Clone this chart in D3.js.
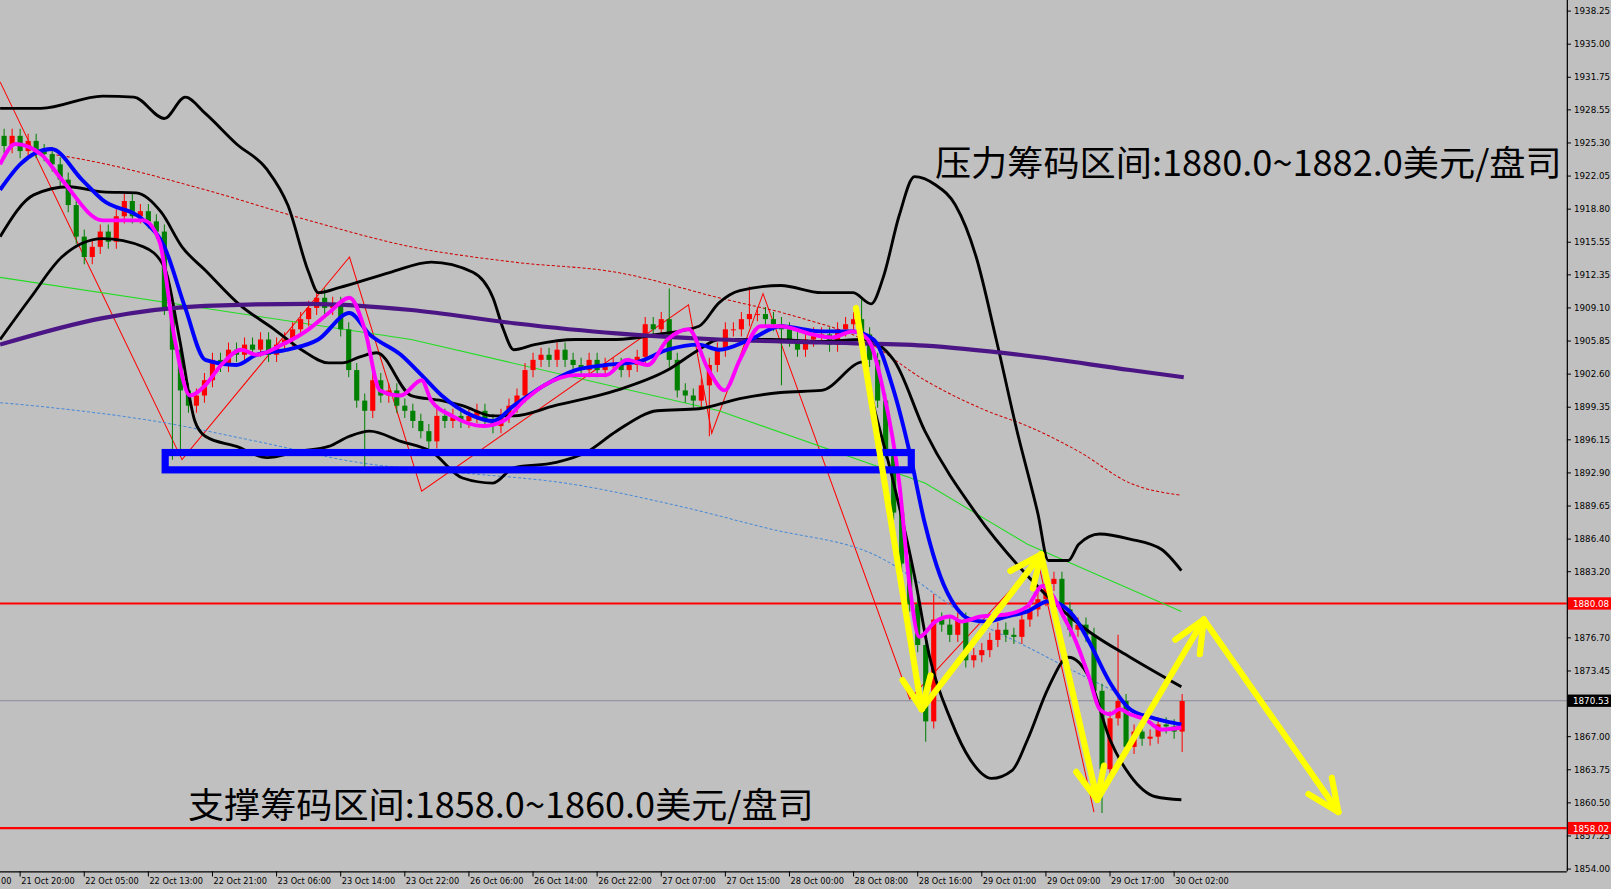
<!DOCTYPE html>
<html><head><meta charset="utf-8">
<script src="https://cdn.jsdelivr.net/npm/d3@7"></script>
<style>body{margin:0;background:#c0c0c0;overflow:hidden}</style>
</head><body>
<svg id="c" width="1611" height="889"></svg>
<script>
// ---- data ----
const closes = [
1925.0,1926.0,1924.5,1925.5,1924.5,1924.2,
1923.2,1921.7,1919.2,1916.1,1914.1,1915.1,1916.6,
1915.6,1918.1,1919.6,1918.1,1918.6,1917.6,1916.6,
1909.1,1905.0,1901.0,1899.5,1900.5,1902.0,
1904.0,1903.5,1905.0,1904.5,1905.5,1905.0,1906.0,1904.5,1905.5,1906.0,
1907.0,1908.0,1909.1,1910.1,1909.1,1909.5,1907.0,1903.0,1900.0,1899.0,
1902.0,1900.5,1901.0,1899.5,1899.0,1898.0,1897.0,1896.0,1898.5,1898.0,
1898.5,1898.0,1898.5,1899.0,1898.0,1897.5,1898.5,1899.5,1900.5,1903.0,
1904.0,1904.5,1904.0,1905.0,1904.0,1903.5,1903.0,1904.0,1903.0,1903.5,
1903.5,1903.0,1903.5,1904.3,1907.5,1907.0,1908.0,1904.0,1901.0,1900.5,
1900.0,1901.5,1903.5,1905.0,1907.0,1907.0,1908.0,1908.5,1908.5,1908.0,
1907.5,1907.0,1906.0,1905.0,1906.0,1906.5,1906.5,1905.5,1907.0,1907.5,1908.0,
1906.5,1904.0,1900.0,1895.0,1889.0,1884.0,1880.0,1876.0,1868.5,
1878.5,1878.0,1877.0,1878.5,1874.5,1875.0,1875.5,1876.5,1877.5,1877.0,
1876.8,1878.5,1879.5,1880.5,1882.0,1882.5,1879.5,1877.5,1878.0,1877.0,
1871.5,1863.8,1868.8,1870.5,1866.0,1867.5,1866.8,1867.0,1868.2,1868.0,1867.5,1870.5
];
const firstOpen = 1926.0;
const bigWicks = {21:[null,1894.2],22:[null,1895.0],40:[1911.0,null],45:[null,1893.0],
  83:[1911.0,null],88:[null,1896.5],93:[1911.2,null],97:[null,1901.5],107:[1910.0,null],
  115:[null,1866.5],116:[1881.0,null],137:[null,1859.5],139:[1877.0,null],147:[null,1865.5]};
const wickPad = 0.7;

const pinkMA = [[-0.5,1923.2],[1.4,1925.2],[4.6,1924.2],[7.2,1921.7],[12.3,1917.7],[17.4,1917.7],[19.4,1915.6],[21.3,1906.0],[23.2,1900.5],[25.1,1901.5],[27.1,1903.5],[29.6,1905.0],[31.5,1904.5],[34.7,1905.5],[38,1907.0],[40.5,1908.6],[43.1,1910.1],[45,1907.0],[46.9,1901.0],[49.5,1900.5],[52.1,1902.0],[53.3,1900.0],[55.9,1898.5],[59.7,1897.5],[62.3,1898.0],[64.9,1900.0],[67.4,1901.5],[71.3,1902.5],[75.1,1902.5],[77.7,1904.0],[80.3,1903.5],[82.8,1906.0],[85.4,1907.0],[87.9,1903.0],[89.9,1901.0],[91.8,1904.0],[94.4,1907.3],[96.9,1907.3],[100.8,1906.5],[103.3,1906.2],[105.9,1906.8],[107.8,1906.0],[109.7,1901.0],[111.7,1891.9],[113,1881.8],[114.2,1876.8],[116.2,1878.3],[118.1,1878.8],[119.4,1878.3],[121.9,1878.8],[125.1,1879.0],[127.7,1879.8],[129.6,1881.8],[130.9,1880.8],[132.2,1878.8],[133.5,1876.8],[135.4,1872.8],[136.7,1869.7],[138,1869.2],[139.2,1869.7],[140.5,1869.2],[142.4,1868.7],[144.4,1867.7],[146.9,1867.9]];
const blueMA = [[-0.5,1920.7],[2,1923.2],[5.9,1924.7],[9.7,1921.7],[12.3,1919.7],[17.4,1917.7],[20,1915.1],[22.6,1909.1],[25.1,1904.0],[29,1903.5],[31.5,1904.5],[35.4,1905.0],[39.2,1906.0],[43.1,1908.6],[45.6,1906.5],[49.5,1904.5],[52.1,1902.5],[54.6,1900.5],[58.5,1898.5],[61,1898.0],[63.6,1899.5],[67.4,1901.5],[71.3,1903.0],[75.1,1903.5],[79,1903.8],[82.8,1905.0],[86.7,1905.5],[89.2,1905.0],[93.1,1906.0],[96.9,1907.3],[102,1906.8],[105.9,1906.8],[108.5,1906.0],[111,1901.0],[113,1894.9],[114.9,1887.9],[116.8,1882.8],[118.7,1879.8],[120.6,1878.5],[122.6,1878.3],[125.1,1878.8],[127.7,1879.3],[130.3,1880.3],[132.2,1879.8],[133.5,1878.8],[135.4,1876.3],[138,1872.3],[140.5,1869.7],[143.1,1868.9],[145,1868.5],[146.9,1868.2]];
const purpleMA = [[-0.5,1905.5],[12.3,1908.1],[25.1,1909.3],[38,1909.5],[50.8,1908.9],[63.6,1907.6],[76.4,1906.6],[89.2,1906.0],[102,1905.7],[114.9,1905.4],[127.7,1904.4],[140.5,1903.0],[147.2,1902.3]];
const bandUpper = [[-0.5,1928.7],[4.6,1928.7],[12.3,1929.9],[16.2,1929.8],[20,1927.7],[22.6,1929.8],[25.1,1928.2],[29,1925.2],[32.8,1922.7],[35.4,1919.2],[38,1912.6],[39.2,1910.6],[41.8,1911.1],[48.2,1912.6],[53.3,1913.6],[58.5,1912.6],[61,1910.1],[62.3,1907.0],[63.6,1905.0],[66.2,1905.5],[71.3,1906.0],[76.4,1906.0],[81.5,1906.5],[86.7,1907.3],[89.2,1909.6],[91.8,1910.8],[96.9,1911.3],[102,1910.6],[105.9,1910.6],[108.2,1909.5],[109.7,1912.1],[111.7,1918.2],[113.6,1922.0],[116.2,1921.2],[118.7,1919.2],[121.3,1914.1],[123.8,1906.0],[126.4,1897.0],[129,1888.9],[130.3,1884.3],[132.8,1884.3],[134.1,1885.9],[136.7,1886.9],[140.5,1886.4],[144.4,1885.4],[146.9,1883.3]];
const bandMiddle = [[-0.5,1916.1],[3.7,1920.2],[8.1,1921.0],[12.3,1920.5],[16.5,1920.4],[19.6,1918.5],[22.2,1915.1],[25.1,1912.8],[29.4,1909.4],[33.7,1907.0],[37.1,1905.0],[40.5,1903.7],[42.2,1903.7],[44.4,1904.3],[46.5,1904.7],[50.8,1900.5],[54.6,1900.0],[57.2,1899.5],[61,1898.5],[63.6,1898.5],[68.7,1899.5],[76.4,1901.0],[82.8,1903.0],[86.7,1905.0],[89.2,1906.0],[95.6,1906.0],[102,1905.8],[107.2,1906.0],[111,1904.0],[114.9,1897.0],[121.3,1888.9],[127.7,1882.8],[131.5,1879.8],[135.4,1877.3],[140.5,1874.8],[146.9,1871.9]];
const bandLower = [[-0.5,1906.0],[3.3,1910.1],[7.2,1914.1],[12.3,1915.9],[17.4,1915.1],[20,1913.1],[21.9,1906.0],[23.8,1898.0],[25.1,1896.5],[29,1895.5],[32.8,1894.4],[36.7,1895.0],[40.5,1895.5],[43.1,1896.5],[45.6,1897.0],[49.5,1896.0],[53.3,1895.0],[57.2,1892.4],[61,1891.9],[63.6,1893.4],[68.7,1893.9],[72.6,1894.9],[76.4,1897.0],[81.5,1899.0],[86.7,1899.2],[91.8,1900.2],[96.9,1900.8],[102,1901.0],[107.2,1903.8],[108.5,1899.5],[111,1891.9],[113.6,1882.8],[115.5,1874.8],[118.1,1868.7],[120.6,1864.7],[123.2,1862.9],[125.8,1863.7],[127.7,1866.7],[130.3,1871.8],[132.8,1874.8],[135.4,1872.8],[138,1866.7],[140.5,1863.2],[143.7,1861.1],[146.9,1860.8]];
const redDotted = [[5.9,1924.2],[9.7,1923.7],[25.1,1920.7],[38,1917.7],[50.8,1915.1],[63.6,1913.6],[76.4,1912.6],[89.2,1910.1],[99.5,1908.1],[107.2,1906.0],[114.9,1902.0],[122.6,1899.0],[127.7,1897.5],[134.1,1895.0],[140.5,1891.9],[146.9,1890.7]];
const blueDotted = [[-0.5,1899.8],[7.2,1899.2],[18.7,1898.0],[31.5,1896.0],[44.4,1893.9],[57.2,1892.9],[70,1891.9],[82.8,1889.9],[95.6,1887.4],[108.5,1884.9],[121.3,1878.3],[127.7,1875.8],[134.1,1873.2],[139.2,1871.2]];
const greenLine = [[-0.5,1912.1],[50.8,1906.0],[89.2,1899.0],[114.9,1891.9],[127.7,1885.9],[146.9,1879.3]];
const zigzag = [[-0.5,1931.3],[22.2,1894.2],[43.1,1914.1],[52.1,1891.1],[85.4,1909.4],[88.3,1896.8],[94.7,1910.5],[113,1870.7],[129,1884.3],[136,1859.6]];
const yellowPath = [[106.3,1909.1],[114.5,1869.7],[129.4,1884.9],[136.4,1860.8],[149.7,1878.5],[166.5,1859.6]];
const supportBox = {b0:20.1, b1:113.2, top:1894.9, bottom:1893.2};
const levels = [{p:1880.08, label:"1880.08", color:"#ff0000", w:2},{p:1858.02, label:"1858.02", color:"#ff0000", w:2},{p:1870.53, label:"1870.53", color:"#8a8a9a", w:1}];
const yTicks = [1938.25,1935.00,1931.75,1928.55,1925.30,1922.05,1918.80,1915.55,1912.35,1909.10,1905.85,1902.60,1899.35,1896.15,1892.90,1889.65,1886.40,1883.20,1876.70,1873.45,1867.00,1863.75,1860.50,1857.25,1854.00];
const xTickBars = [2,10,18,26,34,42,50,58,66,74,82,90,98,106,114,122,130,138,146];
const xTickLabels = ["21 Oct 20:00","22 Oct 05:00","22 Oct 13:00","22 Oct 21:00","23 Oct 06:00","23 Oct 14:00","23 Oct 22:00","26 Oct 06:00","26 Oct 14:00","26 Oct 22:00","27 Oct 07:00","27 Oct 15:00","28 Oct 00:00","28 Oct 08:00","28 Oct 16:00","29 Oct 01:00","29 Oct 09:00","29 Oct 17:00","30 Oct 02:00"];
const leftStub = "00";
const textResist = "压力筹码区间:1880.0~1882.0美元/盘司";
const textSupport = "支撑筹码区间:1858.0~1860.0美元/盘司";

// ---- drawing ----
const S = 1611/1568;
const W=1525, H=848;
const svg = d3.select("#c");
svg.append("rect").attr("width",1611).attr("height",889).attr("fill","#c0c0c0");
const root = svg.append("g").attr("transform",`scale(${S})`);
const x = d3.scaleLinear().domain([0,195]).range([4,4+7.8*195]);
const y = d3.scaleLinear().domain([1935,1867]).range([43,717]);
root.append("defs").append("clipPath").attr("id","pc").append("rect").attr("width",W).attr("height",H);
const g = root.append("g").attr("clip-path","url(#pc)");

const line = d3.line().x(d=>x(d[0])).y(d=>y(d[1])).curve(d3.curveMonotoneX);
const lin = d3.line().x(d=>x(d[0])).y(d=>y(d[1]));

levels.forEach(l=>g.append("line").attr("x1",0).attr("x2",W).attr("y1",y(l.p)).attr("y2",y(l.p)).attr("stroke",l.color).attr("stroke-width",l.w));

g.append("path").attr("d",lin(zigzag)).attr("fill","none").attr("stroke","#ff0000").attr("stroke-width",1);
g.append("path").attr("d",line(redDotted)).attr("fill","none").attr("stroke","#d00000").attr("stroke-width",1).attr("stroke-dasharray","3,2");
g.append("path").attr("d",line(blueDotted)).attr("fill","none").attr("stroke","#4a8ad8").attr("stroke-width",1).attr("stroke-dasharray","3,2");
g.append("path").attr("d",lin(greenLine)).attr("fill","none").attr("stroke","#22dd22").attr("stroke-width",1);

const bars = closes.map((c,i)=>{
  const o = i===0?firstOpen:closes[i-1];
  const w = bigWicks[i]||[null,null];
  return {i,o,c,h:w[0]!=null?w[0]:Math.max(o,c)+wickPad,l:w[1]!=null?w[1]:Math.min(o,c)-wickPad};
});
const cg = g.append("g");
cg.selectAll("line.w").data(bars).join("line").attr("x1",d=>x(d.i)).attr("x2",d=>x(d.i))
  .attr("y1",d=>y(d.h)).attr("y2",d=>y(d.l)).attr("stroke",d=>d.c>=d.o?"#ff0000":"#008000");
cg.selectAll("rect").data(bars).join("rect").attr("x",d=>x(d.i)-2.5).attr("width",5)
  .attr("y",d=>y(Math.max(d.o,d.c))).attr("height",d=>Math.max(1,Math.abs(y(d.o)-y(d.c))))
  .attr("fill",d=>d.c>=d.o?"#ff0000":"#008000");

[bandUpper,bandMiddle,bandLower].forEach(b=>g.append("path").attr("d",line(b)).attr("fill","none").attr("stroke","#000").attr("stroke-width",2.8));
g.append("path").attr("d",line(purpleMA)).attr("fill","none").attr("stroke","#4b1585").attr("stroke-width",4);
g.append("path").attr("d",line(blueMA)).attr("fill","none").attr("stroke","#0000ff").attr("stroke-width",3.8);
g.append("path").attr("d",line(pinkMA)).attr("fill","none").attr("stroke","#ff00ff").attr("stroke-width",3.8);

g.append("rect").attr("x",x(supportBox.b0)).attr("y",y(supportBox.top))
  .attr("width",x(supportBox.b1)-x(supportBox.b0)).attr("height",y(supportBox.bottom)-y(supportBox.top))
  .attr("fill","none").attr("stroke","#0000ff").attr("stroke-width",7);

const yp = yellowPath.map(d=>[x(d[0]),y(d[1])]);
for(let k=1;k<yp.length;k++){
  const [x0,y0]=yp[k-1],[x1,y1]=yp[k];
  g.append("line").attr("x1",x0).attr("y1",y0).attr("x2",x1).attr("y2",y1).attr("stroke","#ffff00").attr("stroke-width",6).attr("stroke-linecap","round");
  const a=Math.atan2(y0-y1,x0-x1);
  [0.42,-0.42].forEach(da=>g.append("line").attr("x1",x1).attr("y1",y1)
    .attr("x2",x1+34*Math.cos(a+da)).attr("y2",y1+34*Math.sin(a+da))
    .attr("stroke","#ffff00").attr("stroke-width",6).attr("stroke-linecap","round"));
}

g.append("text").attr("x",910).attr("y",171).attr("font-family","Noto Sans CJK SC").attr("font-size",34)
  .attr("textLength",610).attr("lengthAdjust","spacingAndGlyphs").text(textResist);
g.append("text").attr("x",183).attr("y",796).attr("font-family","Noto Sans CJK SC").attr("font-size",34)
  .attr("textLength",609).attr("lengthAdjust","spacingAndGlyphs").text(textSupport);

root.append("line").attr("x1",W+0.5).attr("x2",W+0.5).attr("y1",0).attr("y2",H).attr("stroke","#000").attr("stroke-width",1.2);
root.append("line").attr("x1",0).attr("x2",W).attr("y1",H+0.5).attr("y2",H+0.5).attr("stroke","#000").attr("stroke-width",1.2);
const ya = root.append("g").attr("font-family","DejaVu Sans").attr("font-size",8.5);
yTicks.forEach(t=>{
  ya.append("line").attr("x1",W).attr("x2",W+4).attr("y1",y(t)).attr("y2",y(t)).attr("stroke","#000");
  ya.append("text").attr("x",W+7).attr("y",y(t)+3).attr("fill","#000").text(t.toFixed(2));
});
levels.forEach(l=>{
  ya.append("rect").attr("x",W+1).attr("y",y(l.p)-6).attr("width",43).attr("height",12).attr("fill",l.color==="#ff0000"?"#ff0000":"#000");
  ya.append("text").attr("x",W+6).attr("y",y(l.p)+3.5).attr("fill","#fff").text(l.label);
});
const xa = root.append("g").attr("font-family","DejaVu Sans").attr("font-size",8);
xa.append("text").attr("x",1).attr("y",H+12).attr("fill","#000").text(leftStub);
xTickBars.forEach((b,i)=>{
  xa.append("line").attr("x1",x(b)).attr("x2",x(b)).attr("y1",H).attr("y2",H+5).attr("stroke","#000");
  xa.append("text").attr("x",x(b)+1).attr("y",H+12).attr("fill","#000").text(xTickLabels[i]);
});
</script>
</body></html>
